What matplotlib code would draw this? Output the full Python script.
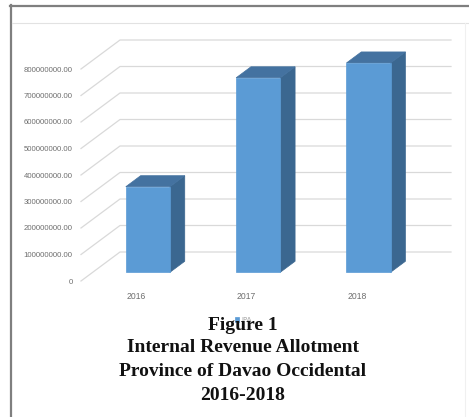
import matplotlib
matplotlib.use("Agg")
import matplotlib.pyplot as plt
from matplotlib.patches import Polygon
from matplotlib.lines import Line2D
from matplotlib.transforms import IdentityTransform, ScaledTranslation
import numpy as np

# ---- data ----
categories = ["2016", "2017", "2018"]
ipa_values = [323e6, 734e6, 790e6]
series_name = "IPA"
y_ticks = [0, 1e8, 2e8, 3e8, 4e8, 5e8, 6e8, 7e8, 8e8]
y_tick_labels = ["0"] + ["%d.00" % int(v) for v in y_ticks[1:]]
caption = ["Figure 1", "Internal Revenue Allotment",
           "Province of Davao Occidental", "2016-2018"]

# ---- style ----
W, H, DPI = 469, 417, 100
front_c = "#5B9BD5"
side_c = "#3B6790"
top_c = "#4472A0"
grid_c = "#D9D9D9"
txt_c = "#6E6E6E"
depth_vec = np.array([39.0, 29.0])   # pixels from front plane to back wall
bar_d0, bar_d1 = 0.30, 0.68          # bar depth span (fraction)
bar_w = 0.40

fig = plt.figure(figsize=(W / DPI, H / DPI), dpi=DPI)
fig.patch.set_facecolor("white")
ax = fig.add_axes([81 / W, 136 / H, 331 / W, 212 / H])
ax.set_xlim(-0.5, len(categories) - 0.5)
ax.set_ylim(0, 8e8)
for s in ax.spines.values():
    s.set_visible(False)
ax.patch.set_visible(False)

ident = IdentityTransform()


def P(x, v, d):
    p = ax.transData.transform((x, v))
    return p + d * depth_vec


# gridlines: diagonal side wall + back wall
x0, x1 = ax.get_xlim()
for v in y_ticks:
    a = P(x0, v, 0.0)
    b = P(x0, v, 1.0)
    c = P(x1, v, 1.0)
    ax.add_line(Line2D([a[0], b[0], c[0]], [a[1], b[1], c[1]], transform=ident,
                       color=grid_c, lw=0.9, clip_on=False, zorder=1))

# bars (front faces through ax.bar with a depth offset)
off = ScaledTranslation(bar_d0 * depth_vec[0] / DPI, bar_d0 * depth_vec[1] / DPI,
                        fig.dpi_scale_trans)
xs = np.arange(len(categories))
for i, v in enumerate(ipa_values):
    xl, xr = xs[i] - bar_w / 2, xs[i] + bar_w / 2
    side = [P(xr, 0, bar_d0), P(xr, 0, bar_d1), P(xr, v, bar_d1), P(xr, v, bar_d0)]
    top = [P(xl, v, bar_d0), P(xr, v, bar_d0), P(xr, v, bar_d1), P(xl, v, bar_d1)]
    ax.add_patch(Polygon(side, closed=True, transform=ident, facecolor=side_c,
                         edgecolor=side_c, lw=0.5, clip_on=False, zorder=3))
    ax.add_patch(Polygon(top, closed=True, transform=ident, facecolor=top_c,
                         edgecolor=top_c, lw=0.5, clip_on=False, zorder=3))
bars = ax.bar(xs, ipa_values, width=bar_w, color=front_c, edgecolor=front_c,
              lw=0.5, transform=ax.transData + off, clip_on=False, zorder=4,
              label=series_name)

# axes ticks
ax.set_yticks(y_ticks)
ax.set_yticklabels(y_tick_labels)
ax.set_xticks(xs)
ax.set_xticklabels(categories)
ax.tick_params(axis="y", length=0, pad=6, labelsize=5.6, labelcolor=txt_c)
ax.tick_params(axis="x", length=0, pad=8, labelsize=6.2, labelcolor=txt_c)
for lab in ax.get_yticklabels() + ax.get_xticklabels():
    lab.set_fontfamily("Liberation Sans")

# legend (partly hidden under caption)
leg = ax.legend(handles=[bars], labels=[series_name], loc="center",
                bbox_to_anchor=(243 / W, 1 - 320 / H), bbox_transform=fig.transFigure,
                frameon=False, fontsize=5, handlelength=0.6, handleheight=0.6,
                handletextpad=0.3, borderpad=0)
for t in leg.get_texts():
    t.set_color("#A0A0A0")

# caption
ys = [325, 348, 372, 395]
for line, y in zip(caption, ys):
    fig.text(243 / W, 1 - y / H, line, ha="center", va="center",
             fontsize=14, fontweight="bold", family="Liberation Serif",
             color="#111111", zorder=10)

# frame decorations
fig.add_artist(Line2D([11 / W, 11 / W], [0, 1 - 5 / H], transform=fig.transFigure,
                      color="#7F7F7F", lw=1.6))
fig.add_artist(Line2D([10 / W, 1], [1 - 6 / H, 1 - 6 / H], transform=fig.transFigure,
                      color="#7F7F7F", lw=1.6))
fig.add_artist(Line2D([12 / W, 1], [1 - 23 / H, 1 - 23 / H], transform=fig.transFigure,
                      color="#E2E2E2", lw=0.8))
fig.add_artist(Line2D([465 / W, 465 / W], [0, 1 - 23 / H], transform=fig.transFigure,
                      color="#F0F0F0", lw=0.8))

fig.savefig("out.png", dpi=DPI, facecolor="white")
